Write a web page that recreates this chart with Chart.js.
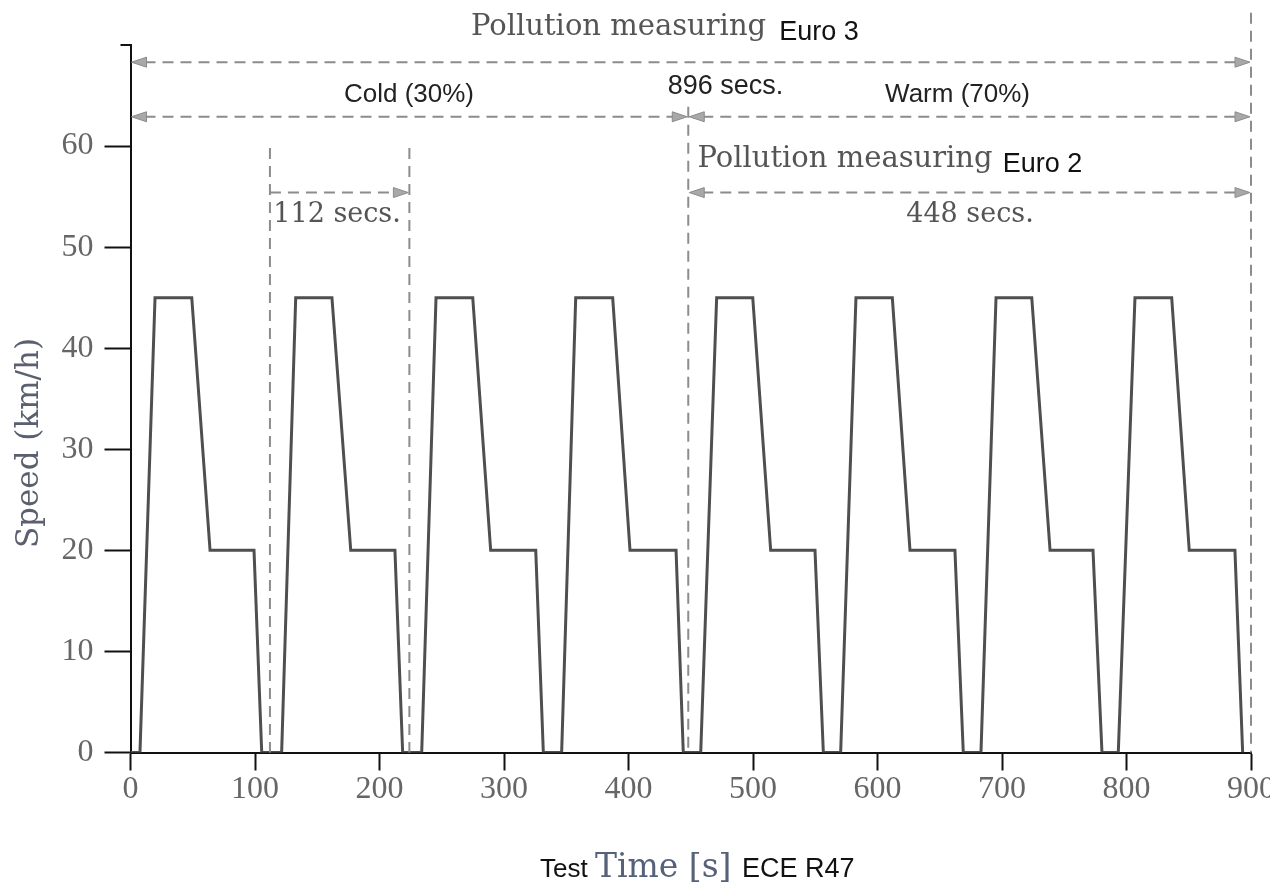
<!DOCTYPE html>
<html>
<head>
<meta charset="utf-8">
<script src="https://cdn.jsdelivr.net/npm/chart.js@4.4.1/dist/chart.umd.min.js"></script>
<style>
  body { margin: 0; background: #fff; }
  #wrap { width: 1270px; height: 885px; }
</style>
</head>
<body>
<div id="wrap"><canvas id="cycleChart" width="1270" height="885"></canvas></div>
<script>
// ECE R47 test cycle (8 cycles of ~112 s)
const timeSec = [
  0, 7.6, 19.7, 49.2, 63.9, 99.2, 105.4,
  121.4, 132.7, 161.8, 176.9, 212.4, 218.6,
  233.9, 245.4, 274.9, 289.3, 325.5, 331.6,
  346.3, 357.6, 387.3, 401.2, 438.2, 444,
  458, 470.8, 499.8, 514.2, 549.8, 556.5,
  570.4, 582.7, 611.9, 626.1, 662.2, 668.9,
  683.1, 695.2, 723.9, 738.6, 773.1, 780.3,
  793.4, 806.8, 836.3, 850.4, 887.1, 893.3
];
const speedKmh = [
  0, 0, 45, 45, 20, 20, 0,
  0, 45, 45, 20, 20, 0,
  0, 45, 45, 20, 20, 0,
  0, 45, 45, 20, 20, 0,
  0, 45, 45, 20, 20, 0,
  0, 45, 45, 20, 20, 0,
  0, 45, 45, 20, 20, 0,
  0, 45, 45, 20, 20, 0
];
const xTickValues = [0, 100, 200, 300, 400, 500, 600, 700, 800, 900];
const yTickValues = [0, 10, 20, 30, 40, 50, 60, 70];

// interval markers in seconds
const cycleMarks = [112, 224];
const euro2Start = 448;
const testEnd = 900;

// Colours
const LINE_GREY = '#4f4f4f';
const DASH_GREY = '#8c8c8c';
const HEAD_GREY = '#a8a8a8';

const ctx = document.getElementById('cycleChart').getContext('2d');

function arrowHead(c, x, y, dir) {
  c.save();
  c.setLineDash([]);
  c.fillStyle = HEAD_GREY;
  c.strokeStyle = DASH_GREY;
  c.lineWidth = 1;
  c.beginPath();
  c.moveTo(x, y);
  c.lineTo(x - dir * 15, y - 5);
  c.lineTo(x - dir * 15, y + 5);
  c.closePath();
  c.fill();
  c.stroke();
  c.restore();
}

function dimLine(c, xs, ys, from, to, row, headLeft, headRight) {
  const y = ys.getPixelForValue(row);
  const x1 = xs.getPixelForValue(from);
  const x2 = xs.getPixelForValue(to);
  c.save();
  c.strokeStyle = DASH_GREY;
  c.lineWidth = 2;
  c.setLineDash([11, 7]);
  c.beginPath();
  c.moveTo(x1 + (headLeft ? 14 : 0), y);
  c.lineTo(x2 - (headRight ? 14 : 0), y);
  c.stroke();
  c.restore();
  if (headLeft) arrowHead(c, x1 + 1, y, -1);
  if (headRight) arrowHead(c, x2 - 1, y, 1);
}

function vLine(c, xs, ys, at, topVal) {
  const x = xs.getPixelForValue(at);
  c.save();
  c.strokeStyle = DASH_GREY;
  c.lineWidth = 2;
  c.setLineDash([11, 7]);
  c.beginPath();
  c.moveTo(x, ys.getPixelForValue(topVal));
  c.lineTo(x, ys.getPixelForValue(0));
  c.stroke();
  c.restore();
}

const labels = [
  { text: 'Pollution measuring', x: 392, y: 71.0, font: '29px "DejaVu Serif"', color: '#555', base: 'alphabetic' },
  { text: 'Euro 3', x: 553, y: 70.5, font: '27px "Liberation Sans"', color: '#111', base: 'alphabetic' },
  { text: 'Cold (30%)', x: 223.7, y: 65.05, font: '26px "Liberation Sans"', color: '#222', base: 'middle' },
  { text: '896 secs.', x: 477.9, y: 65.9, font: '27px "Liberation Sans"', color: '#222', base: 'middle' },
  { text: 'Warm (70%)', x: 664.3, y: 65.05, font: '26px "Liberation Sans"', color: '#222', base: 'middle' },
  { text: 'Pollution measuring', x: 573.9, y: 57.9, font: '29px "DejaVu Serif"', color: '#555', base: 'alphabetic' },
  { text: 'Euro 2', x: 732.5, y: 57.4, font: '27px "Liberation Sans"', color: '#111', base: 'alphabetic' },
  { text: '112 secs.', x: 165.9, y: 53.2, font: '27px "DejaVu Serif"', color: '#555', base: 'middle' },
  { text: '448 secs.', x: 674.3, y: 53.2, font: '27px "DejaVu Serif"', color: '#555', base: 'middle' }
];

const annotations = {
  id: 'annotations',
  afterDraw(chart) {
    const c = chart.ctx;
    const xs = chart.scales.x;
    const ys = chart.scales.y;

    // vertical markers
    cycleMarks.forEach(m => vLine(c, xs, ys, m, 59.8));
    vLine(c, xs, ys, euro2Start, 63.9);
    vLine(c, xs, ys, testEnd, 73.2);

    // dimension arrows
    dimLine(c, xs, ys, 0, testEnd, 68.3, true, true);
    dimLine(c, xs, ys, 0, euro2Start, 62.9, true, true);
    dimLine(c, xs, ys, euro2Start, testEnd, 62.9, true, true);
    dimLine(c, xs, ys, cycleMarks[0], cycleMarks[1], 55.4, false, true);
    dimLine(c, xs, ys, euro2Start, testEnd, 55.4, true, true);

    // short cap at the top of the y axis
    c.save();
    c.strokeStyle = '#111';
    c.lineWidth = 2;
    c.beginPath();
    const topY = ys.getPixelForValue(70);
    c.moveTo(chart.chartArea.left - 10, topY);
    c.lineTo(chart.chartArea.left, topY);
    c.stroke();
    c.restore();

    // text labels
    labels.forEach(l => {
      c.save();
      c.font = l.font;
      c.fillStyle = l.color;
      c.textAlign = 'center';
      c.textBaseline = l.base;
      c.fillText(l.text, xs.getPixelForValue(l.x), ys.getPixelForValue(l.y));
      c.restore();
    });

    // y axis title
    c.save();
    c.translate(30, 443);
    c.rotate(-Math.PI / 2);
    c.font = '31px "DejaVu Serif"';
    c.fillStyle = '#5a6070';
    c.textAlign = 'center';
    c.textBaseline = 'middle';
    c.fillText('Speed (km/h)', 0, 0);
    c.restore();

    // x axis title, mixed fonts
    const parts = [
      { text: 'Test ', font: '26px "Liberation Sans"', color: '#111' },
      { text: 'Time [s] ', font: '33px "DejaVu Serif"', color: '#56627a' },
      { text: 'ECE R47', font: '27px "Liberation Sans"', color: '#111' }
    ];
    let x = 540;
    c.save();
    c.textBaseline = 'alphabetic';
    c.textAlign = 'left';
    parts.forEach(p => {
      c.font = p.font;
      c.fillStyle = p.color;
      c.fillText(p.text, x, 877);
      x += c.measureText(p.text).width;
    });
    c.restore();
  }
};

new Chart(ctx, {
  type: 'line',
  data: {
    datasets: [{
      label: 'Speed',
      data: timeSec.map((t, i) => ({ x: t, y: speedKmh[i] })),
      borderColor: LINE_GREY,
      borderWidth: 3,
      pointRadius: 0,
      tension: 0,
      fill: false
    }]
  },
  options: {
    responsive: false,
    animation: false,
    layout: { padding: { left: 0, right: 19, top: 45, bottom: 0 } },
    plugins: {
      legend: { display: false },
      tooltip: { enabled: false }
    },
    scales: {
      x: {
        type: 'linear',
        min: 0,
        max: 900,
        afterBuildTicks: (s) => { s.ticks = xTickValues.map(v => ({ value: v })); },
        afterFit: (s) => { s.height = 132.5; s.paddingLeft = 0; s.paddingRight = 0; },
        border: { display: true, color: '#111', width: 2 },
        grid: { drawOnChartArea: false, color: '#111', tickLength: 18, tickWidth: 2 },
        ticks: {
          color: '#666',
          padding: 0,
          maxRotation: 0,
          font: { family: 'Liberation Serif', size: 32 }
        }
      },
      y: {
        type: 'linear',
        min: 0,
        max: 70,
        afterBuildTicks: (s) => { s.ticks = yTickValues.map(v => ({ value: v })); },
        afterFit: (s) => { s.width = 130.5; s.paddingTop = 0; s.paddingBottom = 0; },
        border: { display: true, color: '#111', width: 2 },
        grid: {
          drawOnChartArea: false,
          tickLength: 26,
          tickWidth: 2,
          tickColor: (c) => c.tick && c.tick.value === 70 ? 'rgba(0,0,0,0)' : '#111'
        },
        ticks: {
          color: '#666',
          padding: 11,
          font: { family: 'Liberation Serif', size: 32 },
          callback: (v) => v === 70 ? '' : v
        }
      }
    }
  },
  plugins: [annotations]
});
</script>
</body>
</html>
